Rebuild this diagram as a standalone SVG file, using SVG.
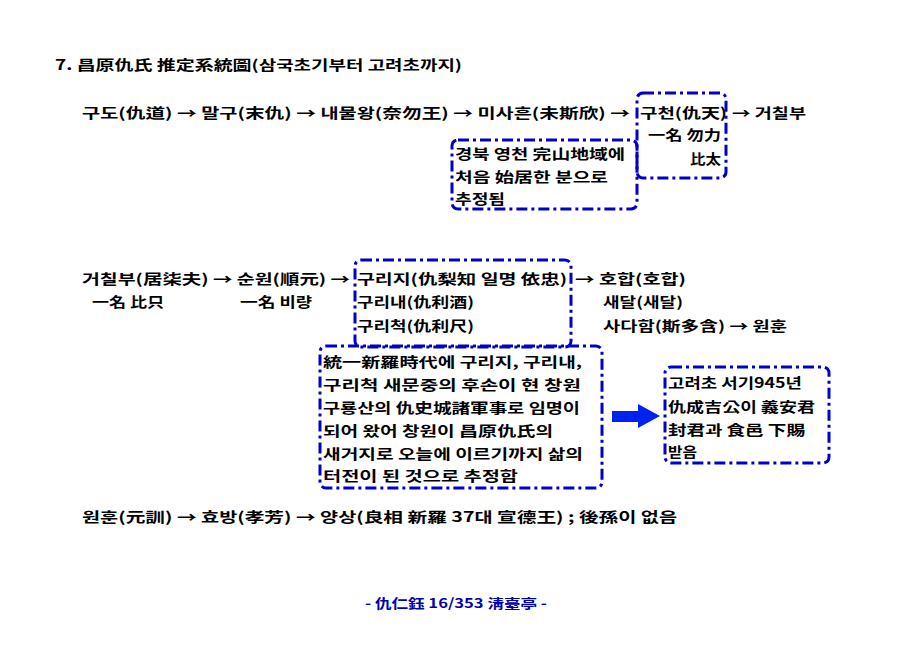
<svg xmlns="http://www.w3.org/2000/svg" width="912" height="645" viewBox="0 0 912 645">
<style>
text{font-family:"Noto Sans CJK KR","Noto Sans CJK SC",sans-serif;font-size:14px;font-weight:bold;fill:#000}
.box{fill:none;stroke:#0000cc;stroke-width:3;stroke-dasharray:11 4 3 4}
.foot{fill:#0000b0;font-size:13px}
</style>
<rect width="912" height="645" fill="#fff"/>
<text x="55" y="70" textLength="407" lengthAdjust="spacingAndGlyphs">7. 昌原仇氏 推定系統圖(삼국초기부터 고려초까지)</text>
<g id="row1">
<text x="82" y="118" textLength="548" lengthAdjust="spacingAndGlyphs">구도(仇道) → 말구(末仇) → 내물왕(奈勿王) → 미사흔(未斯欣) →</text>
</g>
<g id="n-gucheon">
<rect class="box" x="637" y="93" width="89" height="85" rx="6"/>
<text x="640" y="118" textLength="87" lengthAdjust="spacingAndGlyphs">구천(仇天)</text>
<text x="648" y="140" textLength="73" lengthAdjust="spacingAndGlyphs">一名 勿力</text>
<text x="690" y="164" textLength="31" lengthAdjust="spacingAndGlyphs">比太</text>
</g>
<g id="n-geochilbu1">
<text x="732" y="118" textLength="74" lengthAdjust="spacingAndGlyphs">→ 거칠부</text>
</g>
<g id="n-note1">
<rect class="box" x="452" y="140" width="185" height="69" rx="6"/>
<text x="455" y="159" textLength="170" lengthAdjust="spacingAndGlyphs">경북 영천 完山地域에</text>
<text x="455" y="182" textLength="153" lengthAdjust="spacingAndGlyphs">처음 始居한 분으로</text>
<text x="455" y="204" textLength="50" lengthAdjust="spacingAndGlyphs">추정됨</text>
</g>
<g id="row2">
<text x="82" y="284" textLength="268" lengthAdjust="spacingAndGlyphs">거칠부(居柒夫) → 순원(順元) →</text>
<text x="92" y="307" textLength="72" lengthAdjust="spacingAndGlyphs">一名 比只</text>
<text x="240" y="307" textLength="72" lengthAdjust="spacingAndGlyphs">一名 비량</text>
</g>
<g id="n-guri">
<rect class="box" x="355" y="260" width="216" height="87" rx="6"/>
<text x="357" y="284" textLength="210" lengthAdjust="spacingAndGlyphs">구리지(仇梨知 일명 依忠)</text>
<text x="357" y="307" textLength="117" lengthAdjust="spacingAndGlyphs">구리내(仇利酒)</text>
<text x="357" y="331" textLength="117" lengthAdjust="spacingAndGlyphs">구리척(仇利尺)</text>
</g>
<g id="n-sons">
<text x="575" y="284" textLength="111" lengthAdjust="spacingAndGlyphs">→ 호합(호합)</text>
<text x="603" y="307" textLength="80" lengthAdjust="spacingAndGlyphs">새달(새달)</text>
<text x="603" y="331" textLength="184" lengthAdjust="spacingAndGlyphs">사다함(斯多含) → 원훈</text>
</g>
<g id="n-note2">
<rect class="box" x="320" y="346" width="282" height="142" rx="6"/>
<text x="323" y="367" textLength="259" lengthAdjust="spacingAndGlyphs">統一新羅時代에 구리지, 구리내,</text>
<text x="323" y="390" textLength="258" lengthAdjust="spacingAndGlyphs">구리척 새문중의 후손이 현 창원</text>
<text x="323" y="413" textLength="257" lengthAdjust="spacingAndGlyphs">구룡산의 仇史城諸軍事로 임명이</text>
<text x="323" y="436" textLength="230" lengthAdjust="spacingAndGlyphs">되어 왔어 창원이 昌原仇氏의</text>
<text x="323" y="459" textLength="260" lengthAdjust="spacingAndGlyphs">새거지로 오늘에 이르기까지 삶의</text>
<text x="323" y="481" textLength="195" lengthAdjust="spacingAndGlyphs">터전이 된 것으로 추정함</text>
</g>
<g id="connectors">
<polygon points="612,411 638,411 638,404 660,416 638,428 638,422 612,422" fill="#0022ee"/>
</g>
<g id="n-note3">
<rect class="box" x="665" y="367" width="164" height="96" rx="6"/>
<text x="668" y="388" textLength="134" lengthAdjust="spacingAndGlyphs">고려초 서기945년</text>
<text x="668" y="412" textLength="147" lengthAdjust="spacingAndGlyphs">仇成吉公이 義安君</text>
<text x="668" y="435" textLength="137" lengthAdjust="spacingAndGlyphs">封君과 食邑 下賜</text>
<text x="668" y="457" textLength="29" lengthAdjust="spacingAndGlyphs">받음</text>
</g>
<g id="row3">
<text x="82" y="522" textLength="595" lengthAdjust="spacingAndGlyphs">원훈(元訓) → 효방(孝芳) → 양상(良相 新羅 37대 宣德王) ; 後孫이 없음</text>
</g>
<text class="foot" x="365" y="608" textLength="182" lengthAdjust="spacingAndGlyphs">- 仇仁鈺 16/353 淸臺亭 -</text>
</svg>
